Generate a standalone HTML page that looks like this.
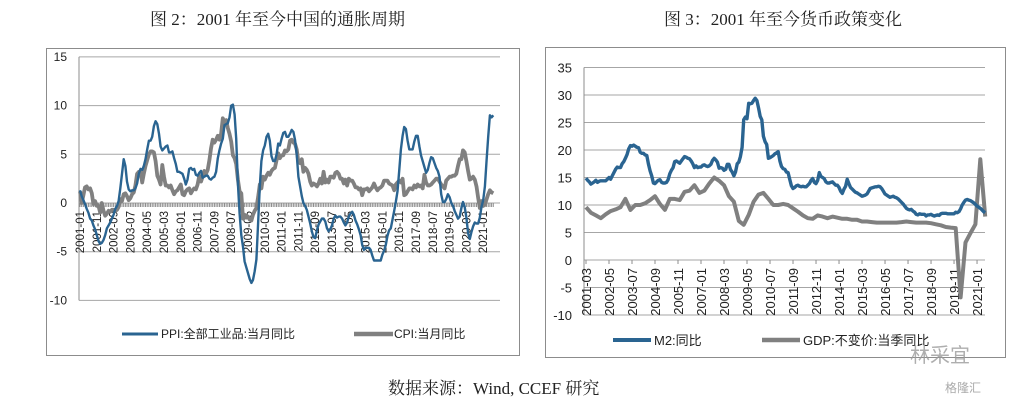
<!DOCTYPE html>
<html><head><meta charset="utf-8">
<style>
html,body{margin:0;padding:0;background:#fff;}
body{width:1017px;height:401px;position:relative;overflow:hidden;font-family:"Liberation Sans","Noto Sans CJK SC",sans-serif;}
.title{position:absolute;font-family:"Liberation Serif","Noto Serif CJK SC",serif;font-size:17px;color:#222;white-space:nowrap;}
svg{position:absolute;left:0;top:0;}
</style></head><body>
<div class="title" style="left:150px;top:5px;">图 2：2001 年至今中国的通胀周期</div>
<div class="title" style="left:664px;top:5px;">图 3：2001 年至今货币政策变化</div>
<div class="title" style="left:388px;top:374px;">数据来源：Wind, CCEF 研究</div>
<svg id="chart" width="1017" height="401"></svg>
<script>
const ppi=[1.3,0.7,0.3,-0.1,-0.6,-1.0,-1.6,-1.8,-2.3,-2.7,-3.3,-3.9,
-4.2,-4.1,-3.8,-3.3,-2.6,-2.3,-2.0,-1.6,-1.2,-0.6,-0.3,0.2,
1.5,3.0,4.5,3.8,2.2,1.4,1.2,1.3,1.3,1.5,2.0,3.0,
3.5,3.4,3.8,4.5,5.5,6.4,6.4,6.8,7.9,8.4,8.1,7.1,
5.8,5.4,5.6,5.8,5.9,5.2,5.2,5.3,4.6,4.0,3.2,3.2,
3.1,3.0,2.5,1.9,2.4,3.5,3.6,3.4,3.5,2.9,2.8,3.1,
3.3,2.6,2.7,2.8,2.8,2.5,2.4,2.6,2.7,3.2,4.6,5.4,
6.1,6.6,8.0,8.1,8.2,8.8,10.0,10.1,9.1,6.6,2.0,-1.1,
-3.3,-4.5,-6.0,-6.6,-7.2,-7.8,-8.2,-7.9,-7.0,-5.8,-2.1,1.7,
4.3,5.4,5.9,6.8,7.1,6.4,4.8,4.3,4.3,5.0,6.1,5.9,
6.6,7.2,7.3,6.8,6.8,7.1,7.5,7.3,6.5,5.0,2.7,1.7,
0.7,0.0,-0.3,-0.7,-1.4,-2.1,-2.9,-3.5,-3.6,-2.8,-2.2,-1.9,
-1.6,-1.6,-1.9,-2.6,-2.9,-2.7,-2.3,-1.6,-1.3,-1.5,-1.4,-1.4,
-1.6,-2.0,-2.3,-2.0,-1.4,-1.1,-0.9,-1.2,-1.8,-2.2,-2.7,-3.3,
-4.3,-4.8,-4.6,-4.6,-4.6,-4.8,-5.4,-5.9,-5.9,-5.9,-5.9,-5.9,
-5.3,-4.9,-4.3,-3.4,-2.8,-2.6,-1.7,-0.8,0.1,1.2,3.3,5.5,
6.9,7.8,7.6,6.4,5.5,5.5,5.5,6.3,6.9,6.9,5.8,4.9,
4.3,3.7,3.1,3.4,4.1,4.7,4.6,4.1,3.6,3.3,2.7,0.9,
0.1,0.1,0.4,0.9,0.6,0.0,-0.3,-0.8,-1.2,-1.6,-1.4,-0.5,
0.1,-0.4,-1.5,-3.1,-3.7,-3.0,-2.4,-2.0,-2.1,-2.1,-1.5,-0.4,
0.3,1.7,4.4,6.8,9.0,8.8,9.0];
const cpi=[1.2,0.0,0.8,1.6,1.7,1.4,1.5,1.0,-0.1,0.2,-0.3,-0.3,
-1.0,0.0,-0.8,-1.3,-1.1,-0.8,-0.9,-0.7,-0.7,-0.8,-0.7,-0.4,
0.4,0.2,0.9,1.0,0.7,0.3,0.5,0.9,1.1,1.8,3.0,3.2,
3.2,2.1,3.0,3.8,4.4,5.0,5.3,5.3,5.2,4.3,2.8,2.4,
1.9,3.9,2.7,1.8,1.8,1.6,1.8,1.3,0.9,1.2,1.3,1.6,
1.9,0.9,0.8,1.2,1.4,1.5,1.0,1.3,1.5,1.4,1.9,2.8,
2.2,2.7,3.3,3.0,3.4,4.4,5.6,6.5,6.2,6.5,6.9,6.5,
7.1,8.7,8.3,8.5,7.7,7.1,6.3,4.9,4.6,4.0,2.4,1.2,
1.0,-1.6,-1.2,-1.5,-1.4,-1.7,-1.8,-1.2,-0.8,-0.5,0.6,1.9,
1.5,2.7,2.4,2.8,3.1,2.9,3.3,3.5,3.6,4.4,5.1,4.6,
4.9,4.9,5.4,5.3,5.5,6.4,6.5,6.2,6.1,5.5,4.2,4.1,
4.5,3.2,3.6,3.4,3.0,2.2,1.8,2.0,1.9,1.7,2.0,2.5,
2.0,3.2,2.1,2.4,2.1,2.7,2.7,2.6,3.1,3.2,3.0,2.5,
2.5,2.0,2.4,1.8,2.5,2.3,2.3,2.0,1.6,1.6,1.4,1.5,
0.8,1.4,1.4,1.5,1.2,1.4,1.6,2.0,1.6,1.3,1.5,1.6,
1.8,2.3,2.3,2.3,2.0,1.9,1.8,1.3,1.9,2.1,2.3,2.1,
2.5,0.8,0.9,1.2,1.5,1.5,1.4,1.8,1.6,1.9,1.7,1.8,
1.5,2.9,2.1,1.8,1.8,1.9,2.1,2.3,2.5,2.5,2.2,1.9,
1.7,1.5,2.3,2.5,2.7,2.7,2.8,2.8,3.0,3.8,4.5,4.5,
5.4,5.2,4.3,3.3,2.4,2.5,2.7,2.4,1.7,0.5,-0.5,0.2,
-0.3,-0.2,0.4,0.9,1.3,1.1,1.0];
const leftTicks=["2001-01","2001-11","2002-09","2003-07","2004-05","2005-03","2006-01","2006-11","2007-09","2008-07","2009-05","2010-03","2011-01","2011-11","2012-09","2013-07","2014-05","2015-03","2016-01","2016-11","2017-09","2018-07","2019-05","2020-03","2021-01"];
const leftY=[15,10,5,0,-5,-10];
const m2=[14.9,14.5,14.2,13.8,14.0,14.2,14.5,14.1,14.3,14.4,
14.4,14.4,14.4,14.7,15.0,14.7,15.3,15.9,16.5,16.9,16.8,16.8,
17.5,17.9,18.5,19.2,20.2,20.8,20.7,20.9,20.7,20.5,20.4,19.6,
19.4,19.4,19.1,19.0,17.5,16.2,15.3,14.0,13.9,14.2,14.5,14.6,
14.1,14.0,14.0,14.1,14.6,15.7,16.3,16.8,17.9,18.0,17.8,17.6,
18.0,18.4,18.8,18.7,18.5,18.4,18.0,17.5,16.8,17.1,16.8,16.9,
16.9,17.2,17.3,17.1,17.0,17.1,17.4,18.1,18.5,18.2,17.8,16.7,
16.8,16.7,16.3,16.5,17.4,17.4,16.4,16.0,15.3,16.0,17.5,17.8,
18.8,20.5,25.5,26.0,25.7,28.5,28.4,28.5,29.0,29.4,29.0,27.7,
26.1,25.5,22.5,21.5,21.0,18.5,18.6,18.8,19.0,19.3,19.5,19.7,
18.0,17.0,16.6,16.5,16.0,15.9,14.7,13.5,13.0,13.2,13.5,13.6,
13.4,13.3,13.4,13.3,13.3,13.6,13.9,14.5,14.8,14.1,13.9,14.5,
15.9,15.2,15.0,14.8,14.2,14.0,14.0,14.1,14.2,13.9,13.6,13.6,
13.2,12.5,12.1,12.9,13.4,14.7,13.9,13.2,12.9,12.6,12.3,12.2,
12.0,11.8,11.6,11.7,11.8,12.0,12.5,13.0,13.1,13.2,13.3,13.3,
13.4,13.3,13.0,12.5,12.0,11.8,11.6,11.4,11.5,11.6,11.4,11.3,
11.1,10.8,10.5,10.2,9.8,9.4,9.2,9.1,9.2,8.9,8.7,8.3,
8.2,8.4,8.3,8.3,8.3,8.0,8.2,8.2,8.3,8.1,8.0,8.1,
8.2,8.1,8.4,8.5,8.5,8.5,8.4,8.4,8.4,8.4,8.4,8.7,
8.6,8.8,9.3,10.0,10.5,10.9,11.0,10.9,10.8,10.6,10.4,10.1,
9.8,9.6,9.4,9.1,8.8,8.6];
const gdp=[9.6,8.6,8.1,7.6, 8.3,8.9,9.2,9.6, 11.1,9.1,10.0,10.0, 10.3,10.9,11.6,10.2,
9.1,11.1,11.1,10.9, 12.4,12.6,13.6,12.2, 12.6,13.9,15.0,14.4, 13.6,11.6,10.6,7.1,
6.4,8.2,10.6,11.9, 12.2,11.1,10.0,10.0, 10.2,10.0,9.4,8.8, 8.1,7.6,7.5,8.1,
7.9,7.6,7.9,7.7, 7.5,7.5,7.3,7.3, 7.0,7.0,6.9,6.8, 6.8,6.8,6.8,6.8,
6.9,7.0,6.9,6.8, 6.8,6.8,6.7,6.5, 6.3,6.0,5.9,5.8, -6.8,3.2,4.9,6.5, 18.3,7.9];
const rightTicks=["2001-03","2002-05","2003-07","2004-09","2005-11","2007-01","2008-03","2009-05","2010-07","2011-09","2012-11","2014-01","2015-03","2016-05","2017-07","2018-09","2019-11","2021-01"];
const rightY=[35,30,25,20,15,10,5,0,-5,-10];

const NS="http://www.w3.org/2000/svg";
const svg=document.getElementById('chart');
function mk(tag,attrs,parent){const e=document.createElementNS(NS,tag);for(const k in attrs)e.setAttribute(k,attrs[k]);(parent||svg).appendChild(e);return e;}

// ---- left chart ----
const Lx0=80,Ldx=1.68,Ly=v=>203-v*9.74;
const Lx=i=>Lx0+i*Ldx;
let f=mk('rect',{x:46.5,y:48.5,width:473,height:307,fill:'#fff',stroke:'#8c8c8c','stroke-width':1});


leftY.forEach(v=>{
  const l=mk('line',{x1:79,x2:500,y1:Ly(v),y2:Ly(v),stroke:'#a6a6a6','stroke-width':1});
  
  
  const t=mk('text',{x:67,y:Ly(v)+4,'text-anchor':'end','font-size':12,fill:'#222'});
  t.textContent=v;
  
  
});
let ax=mk('line',{x1:79,x2:79,y1:Ly(15),y2:Ly(-10),stroke:'#8c8c8c','stroke-width':1});


for(let i=0;i<ppi.length;i++){
  const tk=mk('line',{x1:Lx(i),x2:Lx(i),y1:Ly(0),y2:Ly(0)+4,stroke:'#8c8c8c','stroke-width':1});
  
  
}
leftTicks.forEach((s,k)=>{
  const x=Lx(k*10)+4,y=Ly(0)+8;
  const t=mk('text',{x:x,y:y,transform:`rotate(-90 ${x} ${y})`,'text-anchor':'end','font-size':11.5,fill:'#222'});
  t.textContent=s;
  
  
});
function path(arr,xf,yf,step){return arr.map((v,i)=>(i?'L':'M')+xf(i*step).toFixed(1)+' '+yf(v).toFixed(1)).join(' ');}
let pc=mk('path',{d:path(cpi,Lx,Ly,1),fill:'none',stroke:'#808080','stroke-width':3.8,'stroke-linejoin':'round'});


let pp=mk('path',{d:path(ppi,Lx,Ly,1),fill:'none',stroke:'#2a6491','stroke-width':2.4,'stroke-linejoin':'round'});


// legend left
let lg1=mk('line',{x1:122,x2:158,y1:334,y2:334,stroke:'#2a6491','stroke-width':3});


let lt1=mk('text',{x:161,y:338,'font-size':12,fill:'#222'});lt1.textContent='PPI:全部工业品:当月同比';


let lg2=mk('line',{x1:354,x2:393,y1:334,y2:334,stroke:'#808080','stroke-width':4.5});


let lt2=mk('text',{x:394,y:338,'font-size':12,fill:'#222'});lt2.textContent='CPI:当月同比';



// ---- right chart ----
const Rx=i=>586+i*1.643,Ry=v=>260-v*5.5;
let f2=mk('rect',{x:545.5,y:47.5,width:460,height:310,fill:'none',stroke:'#8c8c8c','stroke-width':1});


rightY.forEach(v=>{
  const l=mk('line',{x1:584,x2:985,y1:Ry(v),y2:Ry(v),stroke:'#a6a6a6','stroke-width':1});
  
  
  const t=mk('text',{x:572,y:Ry(v)+5,'text-anchor':'end','font-size':13,fill:'#222'});
  t.textContent=v;
  
  
});
let ax2=mk('line',{x1:584,x2:584,y1:Ry(35),y2:Ry(-10),stroke:'#8c8c8c','stroke-width':1});


rightTicks.forEach((s,k)=>{
  const tk=mk('line',{x1:Rx(k*14),x2:Rx(k*14),y1:Ry(0),y2:Ry(0)+4,stroke:'#8c8c8c','stroke-width':1});
  
  
  const x=Rx(k*14)+5,y=Ry(0)+8;
  const t=mk('text',{x:x,y:y,transform:`rotate(-90 ${x} ${y})`,'text-anchor':'end','font-size':13,fill:'#222'});
  t.textContent=s;
  
  
});
let pg=mk('path',{d:path(gdp,Rx,Ry,3),fill:'none',stroke:'#808080','stroke-width':4,'stroke-linejoin':'round'});


let pm=mk('path',{d:path(m2,Rx,Ry,1),fill:'none',stroke:'#2a6491','stroke-width':3.4,'stroke-linejoin':'round'});


let lg3=mk('line',{x1:613,x2:651,y1:340,y2:340,stroke:'#2a6491','stroke-width':4});


let lt3=mk('text',{x:654,y:345,'font-size':13,fill:'#222'});lt3.textContent='M2:同比';


let lg4=mk('line',{x1:762,x2:800,y1:340,y2:340,stroke:'#808080','stroke-width':4.5});


let lt4=mk('text',{x:803,y:345,'font-size':13,fill:'#222'});lt4.textContent='GDP:不变价:当季同比';


let wm=mk('text',{x:910,y:362,'font-size':20,fill:'#9a9a9a',opacity:0.8});wm.textContent='林采宜';


let wm2=mk('text',{x:945,y:392,'font-size':12,fill:'#aaa'});wm2.textContent='格隆汇';


</script>
</body></html>
